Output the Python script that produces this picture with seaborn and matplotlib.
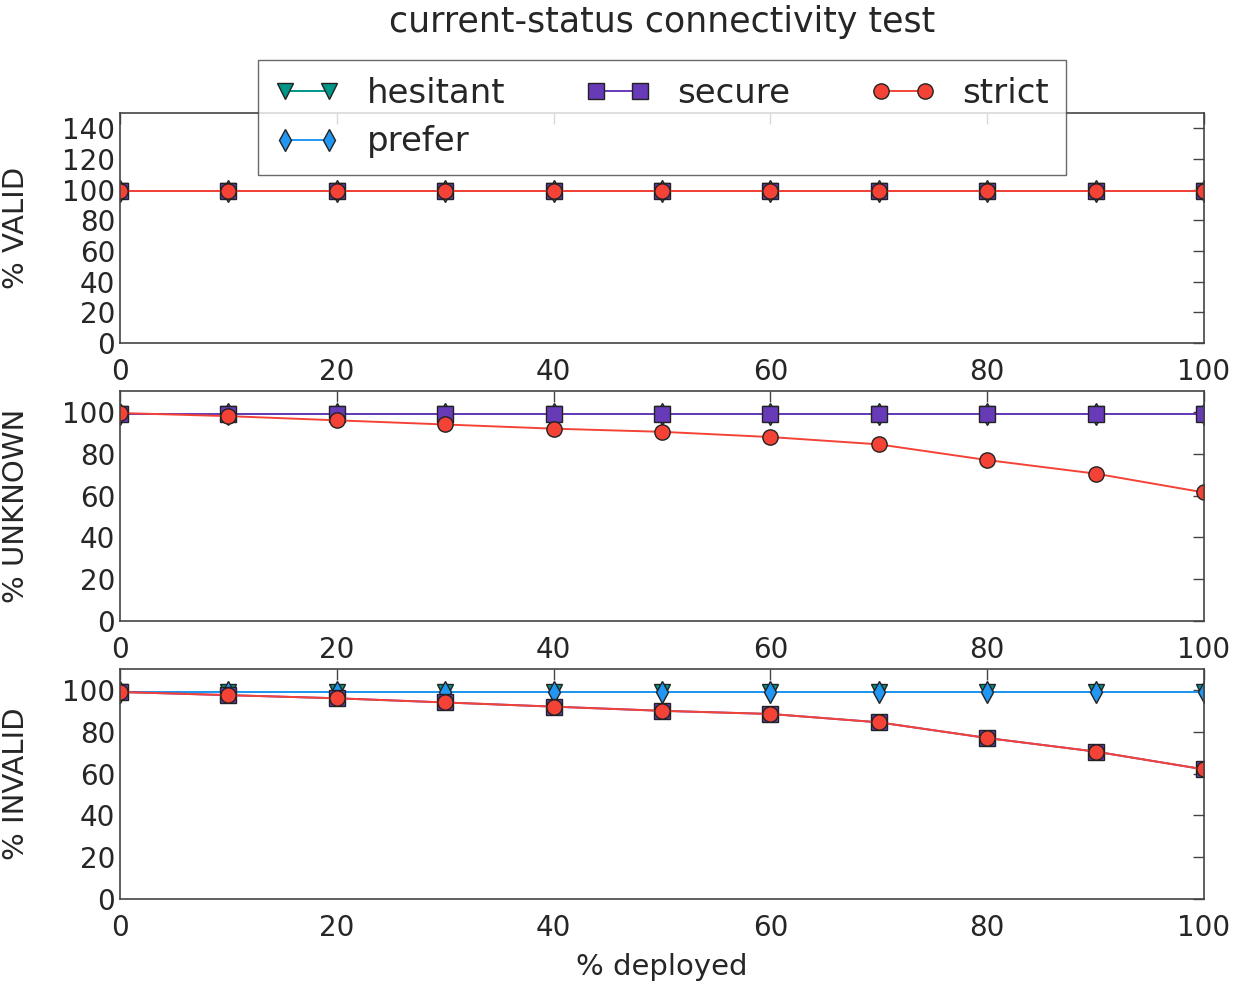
import numpy as np
import pandas as pd
import seaborn as sns
import matplotlib
matplotlib.use("Agg")
import matplotlib.pyplot as plt

deployed = [0, 10, 20, 30, 40, 50, 60, 70, 80, 90, 100]
series_names = ["hesitant", "prefer", "secure", "strict"]

valid_hesitant = [99, 99, 99, 99, 99, 99, 99, 99, 99, 99, 99]
valid_prefer = [99, 99, 99, 99, 99, 99, 99, 99, 99, 99, 99]
valid_secure = [99, 99, 99, 99, 99, 99, 99, 99, 99, 99, 99]
valid_strict = [99, 99, 99, 99, 99, 99, 99, 99, 99, 99, 99]

unknown_hesitant = [99, 99, 99, 99, 99, 99, 99, 99, 99, 99, 99]
unknown_prefer = [99, 99, 99, 99, 99, 99, 99, 99, 99, 99, 99]
unknown_secure = [99, 99, 99, 99, 99, 99, 99, 99, 99, 99, 99]
unknown_strict = [99.5, 98, 96, 94, 92, 90.5, 88, 84.5, 77, 70.5, 61.5]

invalid_hesitant = [99, 99, 99, 99, 99, 99, 99, 99, 99, 99, 99]
invalid_prefer = [99, 99, 99, 99, 99, 99, 99, 99, 99, 99, 99]
invalid_secure = [99, 97.5, 96, 94, 92, 90, 88.5, 84.5, 77, 70.5, 62]
invalid_strict = [99, 97.5, 96, 94, 92, 90, 88.5, 84.5, 77, 70.5, 62]

panel_labels = ["% VALID", "% UNKNOWN", "% INVALID"]
panel_data = [
    [valid_hesitant, valid_prefer, valid_secure, valid_strict],
    [unknown_hesitant, unknown_prefer, unknown_secure, unknown_strict],
    [invalid_hesitant, invalid_prefer, invalid_secure, invalid_strict],
]

colors = {"hesitant": "#009688", "prefer": "#2196F3", "secure": "#673AB7", "strict": "#F44336"}
markers = {"hesitant": "v", "prefer": "d", "secure": "s", "strict": "o"}

sns.set_style("white")
plt.rcParams["font.family"] = ["DejaVu Sans"]
plt.rcParams["text.color"] = "#262626"
plt.rcParams["axes.labelcolor"] = "#262626"
plt.rcParams["xtick.color"] = "#262626"
plt.rcParams["ytick.color"] = "#262626"

fig = plt.figure(figsize=(12.36, 9.85), dpi=100)
bottoms = [0.6518, 0.3695, 0.0873]
left, width, height = 0.0971, 0.8770, 0.2335

handles = None
for i, (lab, data) in enumerate(zip(panel_labels, panel_data)):
    ax = fig.add_axes([left, bottoms[i], width, height])
    for name, vals in zip(series_names, data):
        df = pd.DataFrame({"x": deployed, "y": vals})
        sns.lineplot(data=df, x="x", y="y", ax=ax, color=colors[name],
                     marker=markers[name], markersize=11, markeredgecolor="#222222",
                     markeredgewidth=1.0, linewidth=1.4, label=name, legend=False)
    ax.set_xlim(0, 100)
    if i == 0:
        ax.set_ylim(0, 150)
        ax.set_yticks(np.arange(0, 141, 20))
    else:
        ax.set_ylim(0, 110)
        ax.set_yticks(np.arange(0, 101, 20))
    ax.set_xticks(np.arange(0, 101, 20))
    ax.tick_params(direction="in", top=True, right=True, length=8, width=1,
                   labelsize=20, color="#444444")
    ax.tick_params(axis="x", pad=11)
    ax.set_ylabel(lab, fontsize=21)
    ax.yaxis.set_label_coords(-0.083, 0.5)
    ax.set_xlabel("% deployed" if i == 2 else "", fontsize=21, labelpad=8)
    for sp in ax.spines.values():
        sp.set_color("#444444")
        sp.set_linewidth(1.2)
    ax.grid(False)
    if i == 0:
        handles, labels = ax.get_legend_handles_labels()

fig.text(0.5356, 0.978, "current-status connectivity test", fontsize=25,
         ha="center", va="center")
fig.legend(handles, labels, loc="upper center", bbox_to_anchor=(0.5356, 0.939),
           ncol=3, fontsize=24.5, frameon=True, fancybox=False, edgecolor="#444444",
           columnspacing=2.35, handlelength=1.9, handletextpad=0.8, borderpad=0.5,
           borderaxespad=0, numpoints=2, labelspacing=0.45)
fig.savefig("out.png", dpi=100)
